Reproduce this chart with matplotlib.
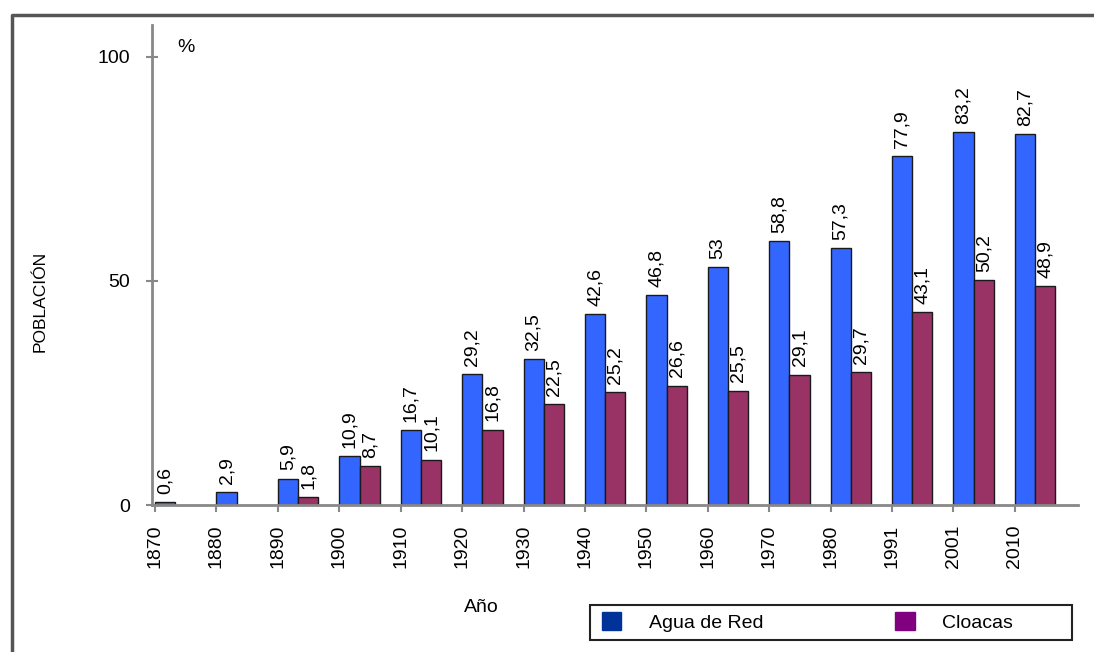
import numpy as np
import matplotlib.pyplot as plt
from matplotlib.patches import Patch, Rectangle
from matplotlib.lines import Line2D

plt.rcParams['font.family'] = ['Liberation Sans', 'DejaVu Sans']

# Datos: cobertura de servicios por año (%)
anios = ['1870', '1880', '1890', '1900', '1910', '1920', '1930', '1940',
         '1950', '1960', '1970', '1980', '1991', '2001', '2010']
agua_red = [0.6, 2.9, 5.9, 10.9, 16.7, 29.2, 32.5, 42.6, 46.8, 53, 58.8, 57.3,
            77.9, 83.2, 82.7]
cloacas = [None, None, 1.8, 8.7, 10.1, 16.8, 22.5, 25.2, 26.6, 25.5, 29.1,
           29.7, 43.1, 50.2, 48.9]

W, H = 1094, 652
fig = plt.figure(figsize=(W / 100, H / 100), dpi=100)
ax = fig.add_axes([152 / W, 1 - 505 / H, (1078 - 152) / W, (505 - 25) / H])

x = np.arange(len(anios))
ancho = 0.33
col_agua = '#3366ff'
col_cloaca = '#993366'
fs = 14


def fmt(v):
    s = f'{v:g}'
    return s.replace('.', ',')


ax.bar(x, agua_red, width=ancho, align='edge', color=col_agua,
       edgecolor='#1a1a1a', linewidth=1.0, zorder=2)
xc = np.array([i for i, v in enumerate(cloacas) if v is not None])
yc = [v for v in cloacas if v is not None]
ax.bar(xc + ancho, yc, width=ancho, align='edge', color=col_cloaca,
       edgecolor='#1a1a1a', linewidth=1.0, zorder=2)

# etiquetas de valor verticales
for i, v in enumerate(agua_red):
    ax.annotate(fmt(v), (i + ancho / 2, v), xytext=(0, 6),
                textcoords='offset points', rotation=90, ha='center',
                va='bottom', fontsize=fs)
for i, v in zip(xc, yc):
    ax.annotate(fmt(v), (i + 1.5 * ancho, v), xytext=(0, 6),
                textcoords='offset points', rotation=90, ha='center',
                va='bottom', fontsize=fs)

ax.set_xlim(-0.05, 15.03)
ax.set_ylim(0, 107.1)
ax.set_xticks(x)
ax.set_xticklabels(anios, rotation=90, fontsize=fs)
ax.set_yticks([0, 50, 100])
ax.set_yticklabels(['0', '50', '100'], fontsize=fs)
ax.tick_params(axis='x', direction='out', length=5, width=1.5,
               color='#888888', pad=9)
ax.tick_params(axis='y', direction='inout', length=9, width=1.5,
               color='#888888', pad=11)

for s in ['top', 'right']:
    ax.spines[s].set_visible(False)
for s in ['left', 'bottom']:
    ax.spines[s].set_color('#888888')
    ax.spines[s].set_linewidth(2)

fig.text(186 / W, 1 - 48 / H, '%', fontsize=fs, ha='center', va='center')
fig.text(40 / W, 1 - 301 / H, 'POBLACIÓN', rotation=90, fontsize=12.5,
         ha='center', va='center')
fig.text(481 / W, 1 - 607 / H, 'Año', fontsize=fs, ha='center',
         va='center')

# leyenda con recuadro propio
fig.patches.append(Rectangle((590 / W, 1 - 640 / H), 482 / W, 35 / H,
                             transform=fig.transFigure, fill=False,
                             edgecolor='#222222', linewidth=1.5))
handles = [Patch(facecolor='#003399', edgecolor='#003399'),
           Patch(facecolor='#800080', edgecolor='#800080')]
fig.legend(handles, ['Agua de Red', 'Cloacas'], ncol=2, frameon=False,
           loc='center left', bbox_to_anchor=(602 / W, 1 - 622 / H),
           borderpad=0, borderaxespad=0, handlelength=1.0, handleheight=1.0,
           handletextpad=1.4, columnspacing=6.8, fontsize=fs)

# marco exterior
fig.add_artist(Line2D([12 / W, 12 / W, 1], [0, 1 - 15 / H, 1 - 15 / H],
                      transform=fig.transFigure, color='#555555',
                      linewidth=2.5))

fig.savefig('out.png', dpi=100)
